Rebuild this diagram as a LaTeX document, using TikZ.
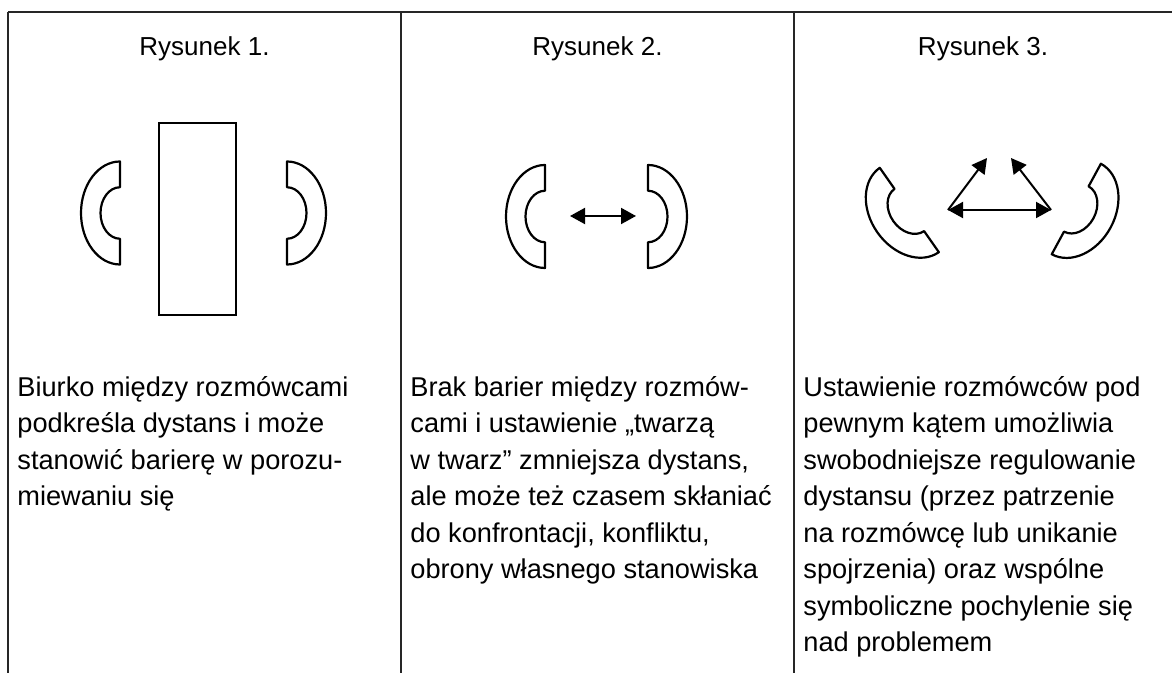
\documentclass[tikz,border=0pt]{standalone}
\usepackage{fontspec}
\setmainfont{Liberation Sans}
\usetikzlibrary{arrows.meta}

\tikzset{
  ear/.pic={
    \draw[earline] (0,-51.5) arc[start angle=270, end angle=90, x radius=39, y radius=51.5]
      -- (0,25.75) arc[start angle=90, end angle=270, x radius=19.5, y radius=25.75] -- cycle;
  },
  earline/.style={line width=1.1pt, line join=round},
  gridline/.style={line width=1pt, black!85},
  talk/.style={line width=1pt, -{Triangle[length=7.5pt,width=8pt]}},
  talkboth/.style={line width=1pt, {Triangle[length=7.5pt,width=8pt]}-{Triangle[length=7.5pt,width=8pt]}},
  heading/.style={anchor=base, inner sep=0pt, font=\fontsize{13}{16}\selectfont},
  caption/.style={anchor=base west, align=left, inner sep=0pt, font=\fontsize{13.6}{18.25}\selectfont},
}

\begin{document}
\begin{tikzpicture}[x=0.5pt,y=-0.5pt]
    \useasboundingbox (0,0) rectangle (1172,673);
    \draw[gridline] (8,12.5) -- (1172,12.5);
    \foreach \x in {8,401,794}
      \draw[gridline] (\x,12.5) -- (\x,673);

    \node[heading] (head1) at (204.5,56) {Rysunek 1.};
    \node[heading] (head2) at (597.5,56) {Rysunek 2.};
    \node[heading] (head3) at (983,56) {Rysunek 3.};

    \draw[line width=0.7pt] (159,123) rectangle (236,315);
    \pic at (120,213) {ear};
    \pic[xscale=-1] at (287,213) {ear};

    \pic at (545,216.5) {ear};
    \pic[xscale=-1] at (648,216.5) {ear};
    \coordinate (faceL) at (570,216);
    \coordinate (faceR) at (636,216);
    \draw[talkboth] (faceL) -- (faceR);

    \pic[rotate=35] at (909.3,210) {ear};
    \pic[rotate=-28.5,xscale=-1] at (1076.3,209) {ear};
    \coordinate (sideL) at (948,210);
    \coordinate (sideR) at (1051,210);
    \coordinate (lookL) at (987,158);
    \coordinate (lookR) at (1011,158);
    \draw[talkboth] (sideL) -- (sideR);
    \draw[talk] (sideL) -- (lookL);
    \draw[talk] (sideR) -- (lookR);

    \node[caption] (text1) at (17,505.5) {Biurko między rozmówcami\\podkreśla dystans i może\\stanowić barierę w porozu-\\miewaniu się};
    \node[caption] (text2) at (410,578.5) {Brak barier między rozmów-\\cami i ustawienie „twarzą\\w twarz” zmniejsza dystans,\\ale może też czasem skłaniać\\do konfrontacji, konfliktu,\\obrony własnego stanowiska};
    \node[caption] (text3) at (803,651.5) {Ustawienie rozmówców pod\\pewnym kątem umożliwia\\swobodniejsze regulowanie\\dystansu (przez patrzenie\\na rozmówcę lub unikanie\\spojrzenia) oraz wspólne\\symboliczne pochylenie się\\nad problemem};
\end{tikzpicture}
\end{document}
